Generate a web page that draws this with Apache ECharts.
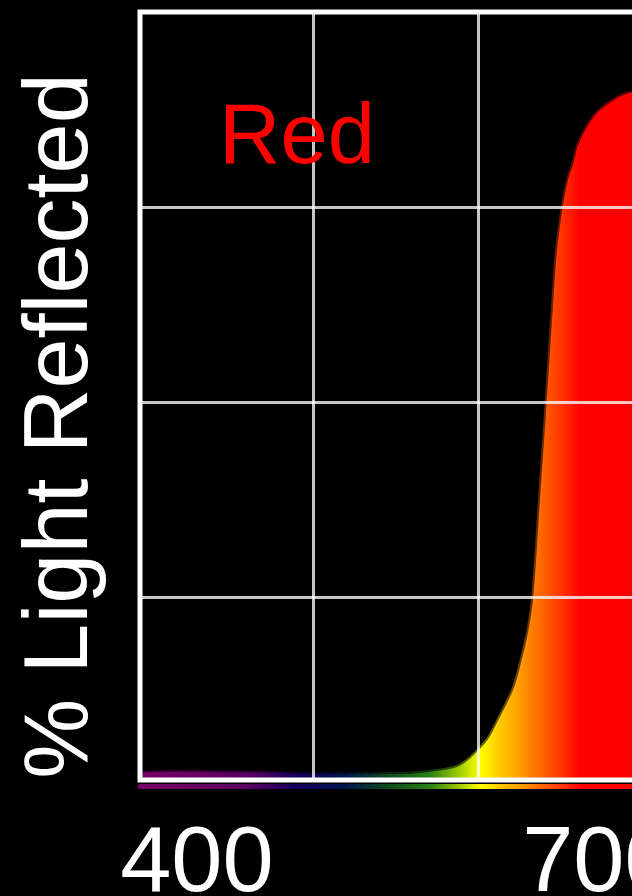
<!DOCTYPE html>
<html>
<head>
<meta charset="utf-8">
<style>
  html, body { margin: 0; padding: 0; background: #000; }
  #chart { width: 632px; height: 896px; }
</style>
<script src="https://cdn.jsdelivr.net/npm/echarts@6/dist/echarts.min.js"></script>
</head>
<body>
<div id="chart"></div>
<script>
// ---- data ----
var wavelengths = [358, 380, 402, 425, 447, 470, 492, 515, 537, 552, 574, 594, 605, 617, 624, 636, 641, 647, 651, 656, 661, 667, 669, 673, 677, 681, 684, 690, 699, 711, 723, 742, 760];
var reflectance = [2.5, 2.6, 2.6, 2.5, 2.5, 2.4, 2.3, 2.3, 2.3, 2.3, 2.6, 3.2, 4.5, 6.7, 8.9, 13.1, 16.0, 20.4, 25.0, 37.4, 50.0, 65.6, 69.9, 75.0, 78.5, 80.6, 82.7, 84.9, 87.1, 88.7, 89.6, 89.8, 89.8];
var xTickLabels = [400, 700];
var xGridValues = [486.6, 609.7];
var yGridValues = [25, 50, 75];
var seriesLabel = 'Red';
var yAxisTitle = '% Light Reflected';

// ---- style ----
var xMin = 357.5, xMax = 760, yMin = 1.54, yMax = 100;
var specNm =     [358, 440, 475, 510, 540, 574, 596, 611, 626, 641, 656, 671, 686, 760];
var specColors = ['rgb(120,0,100)', 'rgb(90,0,100)', 'rgb(20,0,90)', 'rgb(0,20,80)', 'rgb(10,70,30)', 'rgb(40,130,20)', 'rgb(160,205,0)', 'rgb(255,255,0)', 'rgb(255,200,0)', 'rgb(255,155,0)', 'rgb(255,105,0)', 'rgb(255,55,0)', 'rgb(255,0,0)', 'rgb(255,0,0)'];

function spectrumGradient(lo, hi, alpha) {
  var stops = specNm.map(function (nm, i) {
    var c = specColors[i];
    if (alpha !== undefined) c = c.replace('rgb(', 'rgba(').replace(')', ',' + alpha + ')');
    return { offset: Math.min(1, Math.max(0, (nm - lo) / (hi - lo))), color: c };
  });
  return { type: 'linear', x: 0, y: 0, x2: 1, y2: 0, colorStops: stops };
}

var chart = echarts.init(document.getElementById('chart'));
var pts = wavelengths.map(function (w, i) { return [w, reflectance[i]]; });
var gridLineStyle = { color: 'rgba(255,255,255,0.78)', width: 3, type: 'solid' };
var markData = xGridValues.map(function (v) { return { xAxis: v }; })
  .concat(yGridValues.map(function (v) { return { yAxis: v }; }));

chart.setOption({
  backgroundColor: '#000',
  animation: false,
  grid: {
    left: 140, top: 12, bottom: 116, right: 632 - (140 + (xMax - xMin) * 1.34),
    outerBoundsMode: 'none', containLabel: false,
    show: true, borderColor: '#fff', borderWidth: 5, backgroundColor: 'transparent', z: 10
  },
  xAxis: {
    type: 'value', min: xMin, max: xMax, offset: 6,
    axisLine: { show: true, lineStyle: { width: 5, color: spectrumGradient(xMin, xMax) } },
    axisTick: { show: false },
    splitLine: { show: false },
    axisLabel: {
      customValues: xTickLabels, color: '#fff', fontSize: 92, margin: 34,
      fontFamily: 'Liberation Sans, Arial, sans-serif', formatter: function (v) { return String(v); }
    }
  },
  yAxis: {
    type: 'value', min: yMin, max: yMax,
    axisLine: { show: false }, axisTick: { show: false }, axisLabel: { show: false }, splitLine: { show: false }
  },
  series: [{
    type: 'line', data: pts, smooth: 0.3, symbol: 'none',
    lineStyle: { width: 4, color: spectrumGradient(wavelengths[0], wavelengths[wavelengths.length - 1], 0.4) },
    areaStyle: { opacity: 1, color: spectrumGradient(wavelengths[0], wavelengths[wavelengths.length - 1]) },
    markLine: {
      silent: true, symbol: ['none', 'none'], label: { show: false },
      lineStyle: gridLineStyle, data: markData, z: 6
    }
  }],
  graphic: [
    { type: 'text', x: 219, y: 182, style: { text: seriesLabel, fill: '#ff0000', fontSize: 85, fontFamily: 'Liberation Sans, Arial, sans-serif', verticalAlign: 'bottom' }, z: 20 },
    { type: 'text', x: 107, y: 426, rotation: Math.PI / 2, style: { text: yAxisTitle, fill: '#fff', fontSize: 90, fontFamily: 'Liberation Sans, Arial, sans-serif', align: 'center', verticalAlign: 'bottom' }, z: 20 }
  ]
});
</script>
</body>
</html>
